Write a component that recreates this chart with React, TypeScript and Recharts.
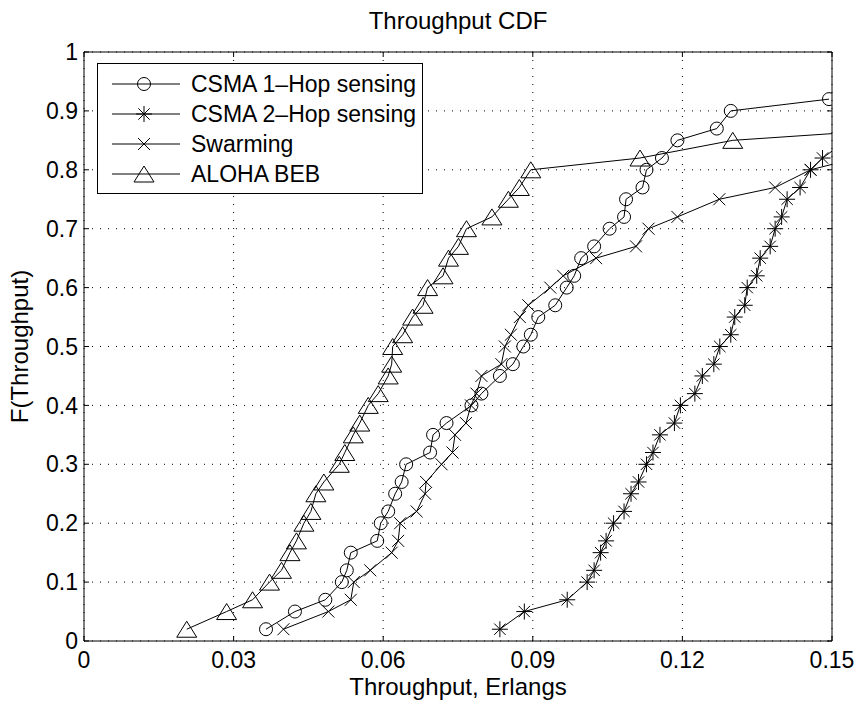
import { LineChart, Line, XAxis, YAxis, CartesianGrid, Legend, Label } from 'recharts';

const FONT = '"Liberation Sans", Arial, Helvetica, sans-serif';

const xTicks = [0, 0.03, 0.06, 0.09, 0.12, 0.15];
const yTicks = [0, 0.1, 0.2, 0.3, 0.4, 0.5, 0.6, 0.7, 0.8, 0.9, 1];

// CSMA 1-Hop sensing (circles)
const csma1X = [0.0365, 0.0423, 0.0484, 0.0517, 0.0527, 0.0535, 0.0588, 0.0595, 0.061, 0.0624, 0.0637, 0.0646, 0.0694, 0.07, 0.0727, 0.0777, 0.0797, 0.0834, 0.086, 0.0881, 0.0896, 0.0911, 0.0945, 0.0968, 0.0983, 0.0997, 0.1023, 0.1054, 0.1083, 0.1087, 0.112, 0.1128, 0.1159, 0.119, 0.1269, 0.1297, 0.1494];
const csma1Y = [0.02, 0.05, 0.07, 0.1, 0.12, 0.15, 0.17, 0.2, 0.22, 0.25, 0.27, 0.3, 0.32, 0.35, 0.37, 0.4, 0.42, 0.45, 0.47, 0.5, 0.52, 0.55, 0.57, 0.6, 0.62, 0.65, 0.67, 0.7, 0.72, 0.75, 0.77, 0.8, 0.82, 0.85, 0.87, 0.9, 0.92];

// CSMA 2-Hop sensing (asterisks)
const csma2X = [0.0834, 0.0883, 0.0969, 0.1009, 0.1023, 0.1036, 0.1047, 0.1062, 0.1083, 0.1097, 0.1112, 0.1128, 0.1141, 0.1155, 0.1184, 0.1196, 0.1225, 0.124, 0.1263, 0.1275, 0.1297, 0.1305, 0.1325, 0.133, 0.1349, 0.1356, 0.1376, 0.1386, 0.1399, 0.141, 0.1436, 0.1457, 0.1481, 0.153];
const csma2Y = [0.02, 0.05, 0.07, 0.1, 0.12, 0.15, 0.17, 0.2, 0.22, 0.25, 0.27, 0.3, 0.32, 0.35, 0.37, 0.4, 0.42, 0.45, 0.47, 0.5, 0.52, 0.55, 0.57, 0.6, 0.62, 0.65, 0.67, 0.7, 0.72, 0.75, 0.77, 0.8, 0.82, 0.85];

// Swarming (x marks)
const swarmX = [0.04, 0.049, 0.0535, 0.0541, 0.0574, 0.0617, 0.063, 0.0634, 0.0667, 0.0684, 0.0686, 0.0717, 0.0739, 0.0744, 0.0766, 0.0776, 0.0787, 0.0797, 0.0837, 0.0844, 0.0856, 0.0874, 0.0891, 0.0935, 0.0961, 0.1027, 0.1107, 0.1132, 0.119, 0.1274, 0.1386, 0.1457, 0.155];
const swarmY = [0.02, 0.05, 0.07, 0.1, 0.12, 0.15, 0.17, 0.2, 0.22, 0.25, 0.27, 0.3, 0.32, 0.35, 0.37, 0.4, 0.42, 0.45, 0.47, 0.5, 0.52, 0.55, 0.57, 0.6, 0.62, 0.65, 0.67, 0.7, 0.72, 0.75, 0.77, 0.8, 0.82];

// ALOHA BEB (triangles)
const alohaX = [0.0206, 0.0286, 0.0338, 0.0372, 0.0396, 0.0413, 0.0426, 0.0441, 0.0455, 0.0465, 0.0481, 0.0512, 0.0523, 0.054, 0.0553, 0.057, 0.059, 0.061, 0.0617, 0.0619, 0.0639, 0.0659, 0.068, 0.0689, 0.072, 0.0731, 0.0751, 0.0767, 0.0818, 0.0851, 0.0873, 0.0896, 0.1115, 0.1301, 0.165];
const alohaY = [0.02, 0.05, 0.07, 0.1, 0.12, 0.15, 0.17, 0.2, 0.22, 0.25, 0.27, 0.3, 0.32, 0.35, 0.37, 0.4, 0.42, 0.45, 0.47, 0.5, 0.52, 0.55, 0.57, 0.6, 0.62, 0.65, 0.67, 0.7, 0.72, 0.75, 0.77, 0.8, 0.82, 0.85, 0.87];

type MarkerKind = 'circle' | 'asterisk' | 'cross' | 'triangle';

const zip = (xs: number[], ys: number[]) => xs.map((x, i) => ({ x, y: ys[i] }));

const series: { name: string; marker: MarkerKind; data: { x: number; y: number }[] }[] = [
  { name: 'CSMA 1–Hop sensing', marker: 'circle', data: zip(csma1X, csma1Y) },
  { name: 'CSMA 2–Hop sensing', marker: 'asterisk', data: zip(csma2X, csma2Y) },
  { name: 'Swarming', marker: 'cross', data: zip(swarmX, swarmY) },
  { name: 'ALOHA BEB', marker: 'triangle', data: zip(alohaX, alohaY) },
];

function Marker({ kind, cx, cy }: { kind: MarkerKind; cx: number; cy: number }) {
  const s = { stroke: '#000', strokeWidth: 1, fill: 'none' };
  if (kind === 'circle') return <circle cx={cx} cy={cy} r={6.5} {...s} />;
  if (kind === 'cross') {
    const d = 6;
    return (
      <path d={`M${cx - d},${cy - d}L${cx + d},${cy + d}M${cx - d},${cy + d}L${cx + d},${cy - d}`} {...s} />
    );
  }
  if (kind === 'asterisk') {
    const a = 8;
    const d = 5.7;
    return (
      <path
        d={`M${cx - a},${cy}L${cx + a},${cy}M${cx},${cy - a}L${cx},${cy + a}M${cx - d},${cy - d}L${cx + d},${cy + d}M${cx - d},${cy + d}L${cx + d},${cy - d}`}
        {...s}
      />
    );
  }
  return <path d={`M${cx},${cy - 8}L${cx + 10},${cy + 8}L${cx - 10},${cy + 8}Z`} {...s} />;
}

const makeDot = (kind: MarkerKind) => (props: any) => {
  const { cx, cy, index } = props;
  if (cx == null || cy == null) return <g key={`${kind}-${index}`} />;
  return <Marker key={`${kind}-${index}`} kind={kind} cx={cx} cy={cy} />;
};

const EmptyTick = () => <g />;

function LegendBox() {
  return (
    <div
      style={{
        width: 326,
        boxSizing: 'border-box',
        border: '1px solid #000',
        background: '#fff',
        padding: '5px 0 4px 14px',
        fontFamily: FONT,
        fontSize: 23,
        color: '#000',
      }}
    >
      {series.map((s) => (
        <div key={s.name} style={{ display: 'flex', alignItems: 'center', height: 30 }}>
          <svg width={68} height={30} style={{ display: 'block' }}>
            <line x1={0} y1={15} x2={68} y2={15} stroke="#000" strokeWidth={1} />
            <Marker kind={s.marker} cx={32} cy={15} />
          </svg>
          <span style={{ marginLeft: 11, lineHeight: '30px', whiteSpace: 'nowrap' }}>{s.name}</span>
        </div>
      ))}
    </div>
  );
}

const tickStyle = { fill: '#000', fontSize: 23, fontFamily: FONT };

export default function App() {
  return (
    <div style={{ position: 'absolute', left: 0, top: 0, width: 859, height: 701, background: '#fff' }}>
      <LineChart width={859} height={701} margin={{ top: 51, right: 26, bottom: 0, left: 0 }}>
        <CartesianGrid stroke="#000" strokeDasharray="1 7" />
        <XAxis
          type="number"
          dataKey="x"
          domain={[0, 0.15]}
          ticks={xTicks}
          interval={0}
          allowDataOverflow
          height={60}
          tickSize={-5}
          tickMargin={16}
          stroke="#000"
          tick={tickStyle}
          tickFormatter={(v: number) => String(v)}
        >
          <Label value="Throughput, Erlangs" position="insideBottom" offset={6} fill="#000" fontSize={24} fontFamily={FONT} />
        </XAxis>
        <XAxis
          xAxisId="top"
          orientation="top"
          type="number"
          dataKey="x"
          domain={[0, 0.15]}
          ticks={xTicks}
          interval={0}
          allowDataOverflow
          height={1}
          tickSize={-5}
          tick={EmptyTick}
          stroke="#000"
        >
          <Label value="Throughput CDF" position="top" offset={22} fill="#000" fontSize={24} fontFamily={FONT} />
        </XAxis>
        <YAxis
          type="number"
          domain={[0, 1]}
          ticks={yTicks}
          interval={0}
          allowDataOverflow
          width={84}
          tickSize={-5}
          tickMargin={11}
          stroke="#000"
          tick={tickStyle}
        >
          <Label
            content={(p: any) => {
              const vb = p.viewBox || { x: 0, y: 52, width: 84, height: 589 };
              const x = vb.x + 28;
              const y = vb.y + vb.height / 2;
              return (
                <text
                  x={x}
                  y={y}
                  transform={`rotate(-90 ${x} ${y})`}
                  textAnchor="middle"
                  fill="#000"
                  fontSize={24}
                  fontFamily={FONT}
                >
                  F(Throughput)
                </text>
              );
            }}
          />
        </YAxis>
        <YAxis
          yAxisId="right"
          orientation="right"
          type="number"
          domain={[0, 1]}
          ticks={yTicks}
          interval={0}
          allowDataOverflow
          width={1}
          tickSize={-5}
          tick={EmptyTick}
          stroke="#000"
        />
        <Legend
          layout="vertical"
          align="center"
          verticalAlign="middle"
          content={<LegendBox />}
          wrapperStyle={{ left: 97, top: 63, width: 326 }}
        />
        {series.map((s) => (
          <Line
            key={s.name}
            data={s.data}
            dataKey="y"
            name={s.name}
            type="linear"
            stroke="#000"
            strokeWidth={1}
            dot={makeDot(s.marker)}
            activeDot={false}
            legendType="none"
            isAnimationActive={false}
          />
        ))}
      </LineChart>
    </div>
  );
}
